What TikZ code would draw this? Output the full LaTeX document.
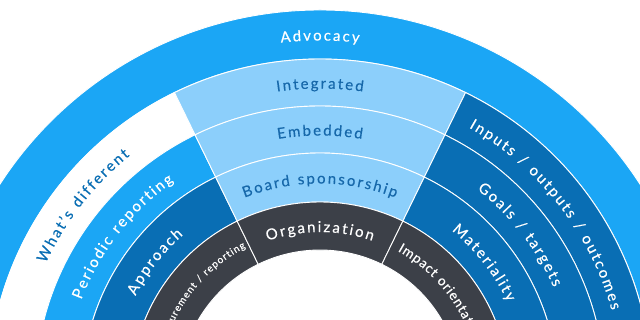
\documentclass[tikz,border=0pt]{standalone}
\usepackage{fontspec}
\setmainfont{Lato}
\usetikzlibrary{decorations.text}
\definecolor{advblue}{RGB}{27,166,245}
\definecolor{paleblue}{RGB}{140,207,251}
\definecolor{deepblue}{RGB}{9,110,180}
\definecolor{slate}{RGB}{60,64,72}
\definecolor{inkblue}{RGB}{22,104,170}
\newfontfamily\ringfamily[FakeBold=0.3]{Lato}
\newcommand\ringfont{\ringfamily\fontsize{15}{18}\selectfont}
\newcommand\ringmid{\ringfamily\fontsize{13.5}{16}\selectfont}
\newcommand\ringsmall{\ringfamily\fontsize{10}{12}\selectfont}

\begin{document}
\begin{tikzpicture}[x=1pt, y=1pt,
  seg/.style={draw=white, line width=0.9pt},
  ringtext/.style n args={3}{decorate, decoration={text effects along path, text align=center,
    text effects/.cd, text along path,
    characters={text=#1, font=#2, inner xsep=#3, inner ysep=0pt, anchor=base},
    character widths={font=#2, inner xsep=#3, inner ysep=0pt}}}]
  \clip (-320,71) rectangle (320,391);
  \fill[white] (-320,71) rectangle (320,391);
  % outer band
  \fill[advblue, seg] (0:332) arc[start angle=0, end angle=180, radius=332]
    -- (180:381) arc[start angle=180, end angle=0, radius=381] -- cycle;
  % inner rings
  \foreach \a/\b/\ri/\ro/\col in {116/180/285/332/white, 116/180/238/285/advblue,
      116/180/189/238/deepblue, 116/180/141/189/slate,
      64/116/285/332/paleblue, 64/116/238/285/paleblue,
      64/116/189/238/paleblue, 64/116/141/189/slate,
      0/64/285/332/deepblue, 0/64/238/285/deepblue,
      0/64/189/238/deepblue, 0/64/141/189/slate}
    \fill[\col, seg] (\a:\ri) arc[start angle=\a, end angle=\b, radius=\ri]
      -- (\b:\ro) arc[start angle=\b, end angle=\a, radius=\ro] -- cycle;
  % labels, top
  \path[ringtext={white}{\ringfont}{1pt}, decoration={text={Advocacy}}]
    (130:350.5) arc[start angle=130, end angle=50, radius=350.5];
  \path[ringtext={inkblue}{\ringfont}{1pt}, decoration={text={Integrated}}]
    (130:302.5) arc[start angle=130, end angle=50, radius=302.5];
  \path[ringtext={inkblue}{\ringfont}{1pt}, decoration={text={Embedded}}]
    (130:255.5) arc[start angle=130, end angle=50, radius=255.5];
  \path[ringtext={inkblue}{\ringfont}{1pt}, decoration={text={Board sponsorship}}]
    (130:207.5) arc[start angle=130, end angle=50, radius=207.5];
  \path[ringtext={white}{\ringfont}{1pt}, decoration={text={Organization}}]
    (130:159) arc[start angle=130, end angle=50, radius=159];
  % labels, left
  \path[ringtext={deepblue}{\ringfont}{1pt}, decoration={text={What’s different}}]
    (182:302.5) arc[start angle=182, end angle=102, radius=302.5];
  \path[ringtext={white}{\ringfont}{1pt}, decoration={text={Periodic reporting}}]
    (182:255.5) arc[start angle=182, end angle=102, radius=255.5];
  \path[ringtext={white}{\ringfont}{1pt}, decoration={text={Approach}}]
    (182:207.5) arc[start angle=182, end angle=102, radius=207.5];
  \path[ringtext={white}{\ringsmall}{0.5pt}, decoration={text={Measurement / reporting}}]
    (181:161.5) arc[start angle=181, end angle=101, radius=161.5];
  % labels, right
  \path[ringtext={white}{\ringfont}{1pt}, decoration={text={Inputs / outputs / outcomes}}]
    (78:302.5) arc[start angle=78, end angle=-2, radius=302.5];
  \path[ringtext={white}{\ringfont}{1pt}, decoration={text={Goals / targets}}]
    (78:255.5) arc[start angle=78, end angle=-2, radius=255.5];
  \path[ringtext={white}{\ringfont}{1pt}, decoration={text={Materiality}}]
    (78:207.5) arc[start angle=78, end angle=-2, radius=207.5];
  \path[ringtext={white}{\ringmid}{0.4pt}, decoration={text={Impact orientation}}]
    (79:160) arc[start angle=79, end angle=-1, radius=160];
\end{tikzpicture}
\end{document}
